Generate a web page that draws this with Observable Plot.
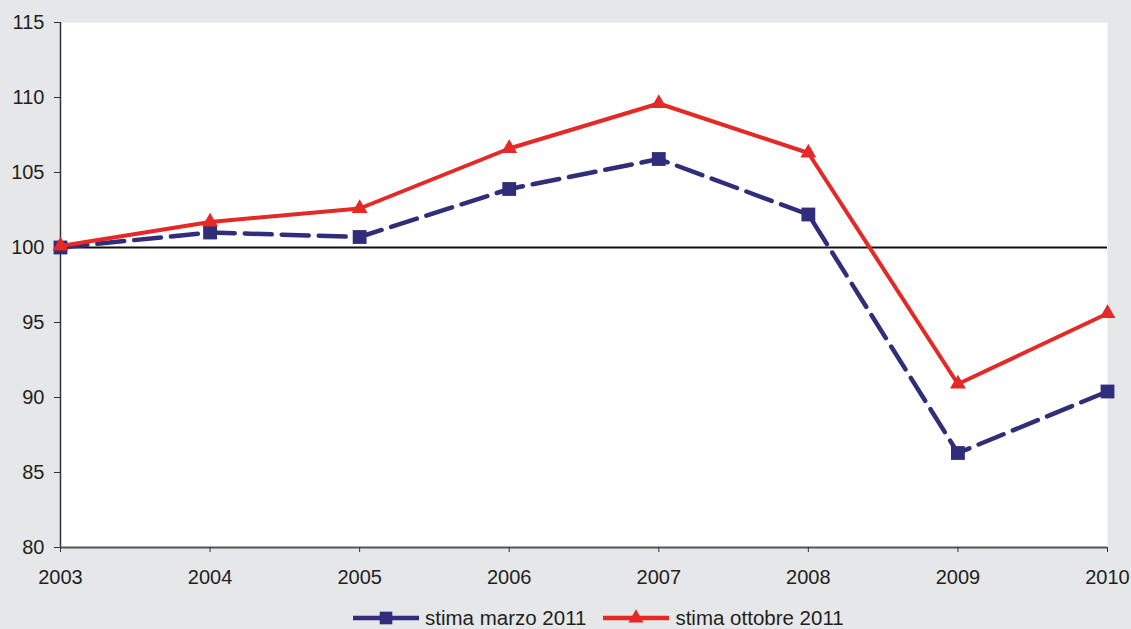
<!DOCTYPE html>
<html>
<head>
<meta charset="utf-8">
<script src="https://cdn.jsdelivr.net/npm/d3@7"></script>
<script src="https://cdn.jsdelivr.net/npm/@observablehq/plot@0.6"></script>
<style>
  html, body { margin: 0; padding: 0; background: #e6e7e8; width: 1131px; height: 629px; overflow: hidden; font-family: "Liberation Sans", Arial, sans-serif; }
  #chart { position: absolute; left: 0; top: 0; }
  #legend { position: absolute; left: 353px; top: 604px; height: 28px; display: flex; align-items: center; font-size: 20.5px; color: #231f20; white-space: nowrap; }
  .item { display: flex; align-items: center; }
  .item svg { display: block; margin-right: 6px; }
  .item + .item { margin-left: 17px; }
</style>
</head>
<body>
<div id="chart"></div>
<div id="legend"></div>
<script>
const years = [2003, 2004, 2005, 2006, 2007, 2008, 2009, 2010];
const stimaMarzo = [100.0, 101.0, 100.7, 103.9, 105.9, 102.2, 86.3, 90.4];
const stimaOttobre = [100.1, 101.7, 102.6, 106.6, 109.6, 106.3, 90.9, 95.6];
const seriesNames = ["stima marzo 2011", "stima ottobre 2011"];
const yTicks = [80, 85, 90, 95, 100, 105, 110, 115];

const colors = { marzo: "#302d7a", ottobre: "#e42926" };

const marzo = years.map((y, i) => ({ year: y, value: stimaMarzo[i] }));
const ottobre = years.map((y, i) => ({ year: y, value: stimaOttobre[i] }));

const plot = Plot.plot({
  width: 1131,
  height: 600,
  marginLeft: 60,
  marginRight: 24,
  marginTop: 22,
  marginBottom: 53,
  style: { background: "#e6e7e8", fontFamily: "'Liberation Sans', Arial, sans-serif", fontSize: "20px", color: "#231f20" },
  x: { type: "linear", domain: [2003, 2010] },
  y: { domain: [80, 115] },
  marks: [
    Plot.frame({ fill: "white", stroke: null }),
    Plot.ruleY([100], { stroke: "#111", strokeWidth: 2 }),
    Plot.ruleX([2003], { stroke: "#333", strokeWidth: 1.5 }),
    Plot.ruleY([80], { stroke: "#555", strokeWidth: 2 }),
    Plot.axisY({ ticks: yTicks, tickSize: 6, tickPadding: 10, tickFormat: d => String(d), label: null, stroke: "#333", fontSize: 20 }),
    Plot.axisX({ ticks: years, tickSize: 5, tickPadding: 17, tickFormat: d => String(d), label: null, stroke: "#333", fontSize: 20 }),
    Plot.line(marzo, { x: "year", y: "value", stroke: colors.marzo, strokeWidth: 4.5, strokeDasharray: "27,10" }),
    Plot.dot(marzo, { x: "year", y: "value", symbol: "square", r: 7.8, fill: colors.marzo, stroke: null }),
    Plot.line(ottobre, { x: "year", y: "value", stroke: colors.ottobre, strokeWidth: 4 }),
    Plot.dot(ottobre, { x: "year", y: "value", symbol: "triangle", r: 5.9, fill: colors.ottobre, stroke: null })
  ]
});
document.getElementById("chart").appendChild(plot);

// Legend
const legend = d3.select("#legend");
const legendDefs = [
  { name: seriesNames[0], color: colors.marzo, symbol: d3.symbolSquare, size: 160 },
  { name: seriesNames[1], color: colors.ottobre, symbol: d3.symbolTriangle, size: 100 }
];
legendDefs.forEach(def => {
  const it = legend.append("div").attr("class", "item");
  const s = it.append("svg").attr("width", 66).attr("height", 20);
  s.append("line").attr("x1", 0).attr("x2", 66).attr("y1", 10).attr("y2", 10)
    .attr("stroke", def.color).attr("stroke-width", 4.5);
  s.append("path").attr("d", d3.symbol(def.symbol, def.size)()).attr("transform", "translate(33,10)")
    .attr("fill", def.color);
  it.append("span").text(def.name);
});
</script>
</body>
</html>
